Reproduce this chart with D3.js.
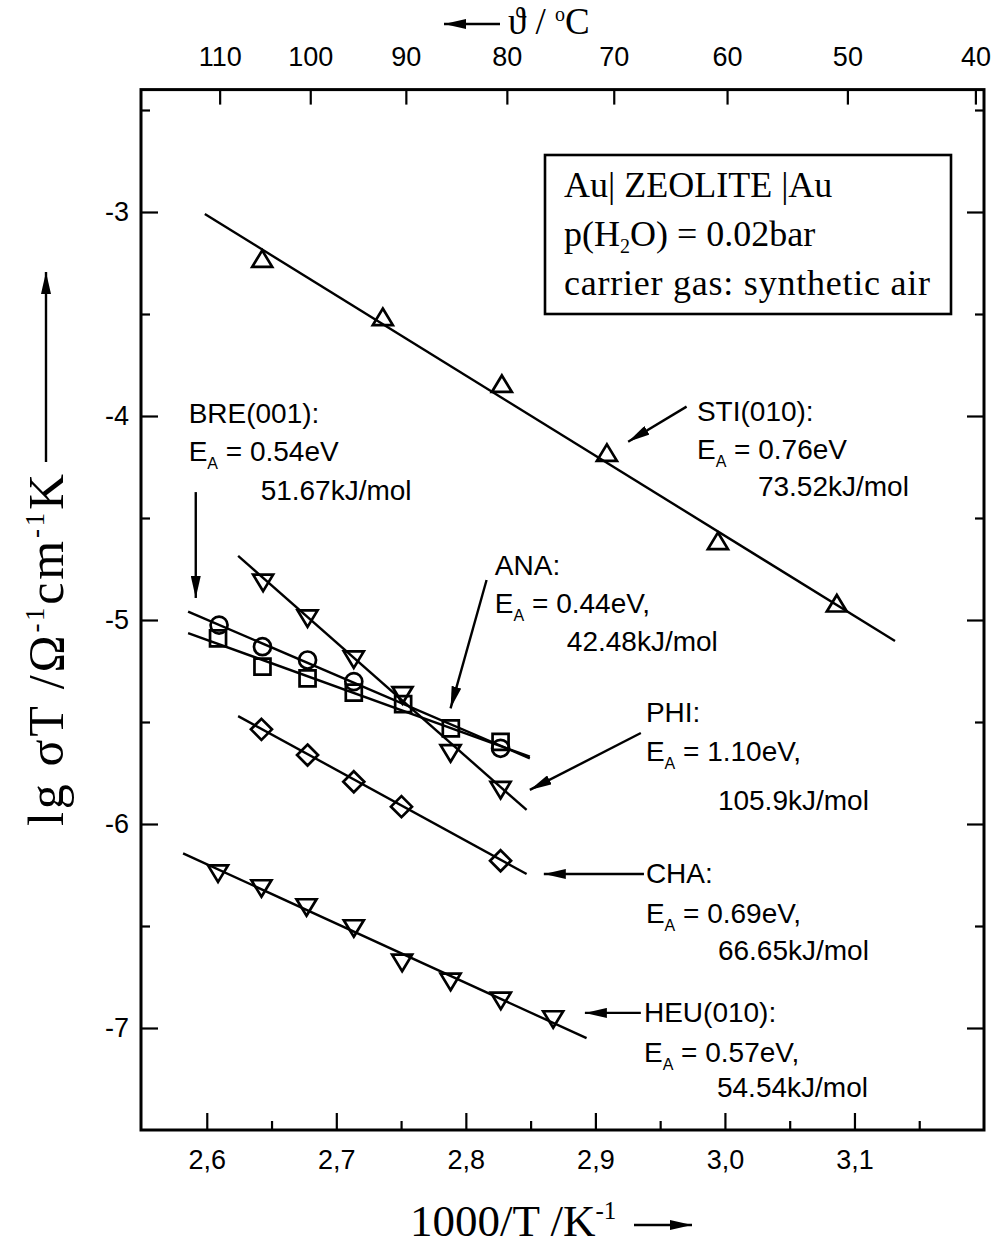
<!DOCTYPE html>
<html><head><meta charset="utf-8">
<script src="https://cdn.jsdelivr.net/npm/d3@7"></script>
<style>body{margin:0;background:#fff} svg{display:block}</style>
</head><body><svg id="c" width="998" height="1247"></svg>
<script>
// ---------- data ----------
const xTickValues = [2.6, 2.7, 2.8, 2.9, 3.0, 3.1];
const xMinorValues = [2.65, 2.75, 2.85, 2.95, 3.05, 3.15];
const yTickValues = [-3, -4, -5, -6, -7];
const yMinorValues = [-2.5, -3.5, -4.5, -5.5, -6.5];
const topTemps = [110, 100, 90, 80, 70, 60, 50, 40];

const stiX = [2.6428, 2.7359, 2.8278, 2.9089, 2.9946, 3.0864];
const stiY = [-3.230, -3.515, -3.843, -4.181, -4.613, -4.919];
const breX = [2.6095, 2.6430, 2.6778, 2.7135, 2.8268];
const breY = [-5.025, -5.131, -5.196, -5.302, -5.629];
const anaX = [2.6087, 2.6430, 2.6778, 2.7135, 2.7516, 2.7884, 2.8268];
const anaY = [-5.090, -5.229, -5.286, -5.356, -5.412, -5.531, -5.597];
const phiX = [2.6435, 2.6778, 2.7135, 2.7511, 2.7882, 2.8268];
const phiY = [-4.817, -4.992, -5.193, -5.368, -5.653, -5.833];
const chaX = [2.6422, 2.6778, 2.7135, 2.7503, 2.8268];
const chaY = [-5.536, -5.662, -5.793, -5.915, -6.180];
const heuX = [2.6087, 2.6422, 2.6770, 2.7135, 2.7508, 2.7882, 2.8270, 2.8674];
const heuY = [-6.242, -6.315, -6.408, -6.511, -6.680, -6.773, -6.866, -6.957];

// linear fits (end points, data units)
const stiFitX = [2.5985, 3.1313], stiFitY = [-3.010, -5.103];
const breFitX = [2.5856, 2.8494], breFitY = [-4.959, -5.678];
const anaFitX = [2.5856, 2.8494], anaFitY = [-5.064, -5.670];
const phiFitX = [2.6242, 2.8469], phiFitY = [-4.686, -5.931];
const chaFitX = [2.6242, 2.8469], chaFitY = [-5.471, -6.245];
const heuFitX = [2.5817, 2.8932], heuFitY = [-6.144, -7.050];

// annotation texts
const labels = [
  {name: "BRE(001):", ea: "0.54eV", kj: "51.67kJ/mol", x: 2.5860, y: -4.035, d2: 38, d3: 77, k3: 72},
  {name: "STI(010):", ea: "0.76eV", kj: "73.52kJ/mol", x: 2.9784, y: -4.025, d2: 38, d3: 75, k3: 61},
  {name: "ANA:", ea: "0.44eV,", kj: "42.48kJ/mol", x: 2.8224, y: -4.780, d2: 38, d3: 76, k3: 72},
  {name: "PHI:", ea: "1.10eV,", kj: "105.9kJ/mol", x: 2.9390, y: -5.500, d2: 39, d3: 88, k3: 72},
  {name: "CHA:", ea: "0.69eV,", kj: "66.65kJ/mol", x: 2.9390, y: -6.289, d2: 40, d3: 77, k3: 72},
  {name: "HEU(010):", ea: "0.57eV,", kj: "54.54kJ/mol", x: 2.9375, y: -6.971, d2: 40, d3: 75, k3: 73}
];
// annotation arrows [x1,y1] tail -> [x2,y2] head (data units)
const arrows = [
  [2.5915, -4.373, 2.5915, -4.892],
  [2.9704, -3.954, 2.9253, -4.126],
  [2.8160, -4.804, 2.7882, -5.433],
  [2.9351, -5.554, 2.8494, -5.833],
  [2.9375, -6.245, 2.8602, -6.245],
  [2.9351, -6.926, 2.8919, -6.926]
];
const boxLines = ["Au| ZEOLITE |Au", "p(H2O) = 0.02bar", "carrier gas: synthetic air"];

// ---------- chart ----------
const svg = d3.select("#c");
const L = 141, R = 984, T = 89.6, B = 1130;
const x = d3.scaleLinear().domain([2.55, 3.2]).range([L + 1, R]);
const y = d3.scaleLinear().domain([-7.5, -2.4]).range([B, T]);
const SANS = "'Liberation Sans', Arial, sans-serif";
const SERIF = "'Liberation Serif', 'Times New Roman', serif";

function styleAxis(g, fs) {
  g.select(".domain").remove();
  g.selectAll(".tick line").attr("stroke", "#000").attr("stroke-width", 2.2);
  g.selectAll(".tick text").attr("fill", "#000").style("font-family", SANS).style("font-size", fs + "px");
}

// bottom axis
svg.append("g").attr("transform", `translate(0,${B})`)
  .call(d3.axisBottom(x).tickValues(xTickValues).tickSizeInner(-17).tickSizeOuter(0).tickPadding(20)
    .tickFormat(d => d3.format(".1f")(d).replace(".", ",")))
  .call(g => styleAxis(g, 27));
svg.append("g").attr("transform", `translate(0,${B})`)
  .call(d3.axisBottom(x).tickValues(xMinorValues).tickSizeInner(-9).tickSizeOuter(0).tickFormat(""))
  .call(g => styleAxis(g, 27));

// top axis (temperature)
const tempPos = topTemps.map(t => 1000 / (t + 273.15));
svg.append("g").attr("transform", `translate(0,${T})`)
  .call(d3.axisTop(x).tickValues(tempPos).tickSizeInner(-15).tickSizeOuter(0).tickPadding(24)
    .tickFormat((d, i) => String(topTemps[i])))
  .call(g => styleAxis(g, 27));

// left axis
svg.append("g").attr("transform", `translate(${L},0)`)
  .call(d3.axisLeft(y).tickValues(yTickValues).tickSizeInner(-17).tickSizeOuter(0).tickPadding(12)
    .tickFormat(d => String(d)))
  .call(g => styleAxis(g, 27));
svg.append("g").attr("transform", `translate(${L},0)`)
  .call(d3.axisLeft(y).tickValues(yMinorValues).tickSizeInner(-9).tickSizeOuter(0).tickFormat(""))
  .call(g => styleAxis(g, 27));
// right axis (ticks only)
svg.append("g").attr("transform", `translate(${R},0)`)
  .call(d3.axisRight(y).tickValues(yTickValues).tickSizeInner(-17).tickSizeOuter(0).tickFormat(""))
  .call(g => styleAxis(g, 27));
svg.append("g").attr("transform", `translate(${R},0)`)
  .call(d3.axisRight(y).tickValues(yMinorValues).tickSizeInner(-9).tickSizeOuter(0).tickFormat(""))
  .call(g => styleAxis(g, 27));

// frame
svg.append("rect").attr("x", L).attr("y", T).attr("width", R - L).attr("height", B - T)
  .attr("fill", "none").attr("stroke", "#000").attr("stroke-width", 3);

// fit lines
const fits = [[stiFitX, stiFitY], [breFitX, breFitY], [anaFitX, anaFitY], [phiFitX, phiFitY], [chaFitX, chaFitY], [heuFitX, heuFitY]];
const line = d3.line().x(d => x(d[0])).y(d => y(d[1]));
fits.forEach(([fx, fy]) => {
  svg.append("path").datum(fx.map((v, i) => [v, fy[i]])).attr("d", line)
    .attr("fill", "none").attr("stroke", "#000").attr("stroke-width", 2.4);
});

// markers
const up = "M0,-8.5 L10,8 L-10,8 Z";
const down = "M0,8.5 L10,-8 L-10,-8 Z";
const diamond = "M0,-10.5 L10.5,0 L0,10.5 L-10.5,0 Z";
const square = "M-8,-8 L8,-8 L8,8 L-8,8 Z";
const circle = d3.symbol(d3.symbolCircle, Math.PI * 8.5 * 8.5)();
const series = [[stiX, stiY, up], [breX, breY, circle], [anaX, anaY, square], [phiX, phiY, down], [chaX, chaY, diamond], [heuX, heuY, down]];
series.forEach(([sx, sy, p]) => {
  svg.append("g").selectAll("path").data(sx.map((v, i) => [v, sy[i]])).join("path")
    .attr("d", p).attr("transform", d => `translate(${x(d[0])},${y(d[1])})`)
    .attr("fill", "none").attr("stroke", "#000").attr("stroke-width", 2.7);
});

// arrowhead marker
svg.append("defs").append("marker").attr("id", "ah").attr("markerUnits", "userSpaceOnUse")
  .attr("viewBox", "0 0 22 10").attr("refX", 22).attr("refY", 5)
  .attr("markerWidth", 22).attr("markerHeight", 10).attr("orient", "auto")
  .append("path").attr("d", "M0,0 L22,5 L0,10 Z").attr("fill", "#000");

arrows.forEach(a => {
  svg.append("line").attr("x1", x(a[0])).attr("y1", y(a[1])).attr("x2", x(a[2])).attr("y2", y(a[3]))
    .attr("stroke", "#000").attr("stroke-width", 2.4).attr("marker-end", "url(#ah)");
});

// annotation labels
labels.forEach(l => {
  const g = svg.append("g").style("font-family", SANS).style("font-size", "28px").attr("fill", "#000");
  const x0 = x(l.x), y0 = y(l.y);
  g.append("text").attr("x", x0).attr("y", y0).text(l.name);
  const t = g.append("text").attr("x", x0).attr("y", y0 + l.d2);
  t.append("tspan").text("E");
  t.append("tspan").attr("dy", 8).style("font-size", "16px").text("A");
  t.append("tspan").attr("dy", -8).text(" = " + l.ea);
  g.append("text").attr("x", x0 + l.k3).attr("y", y0 + l.d3).text(l.kj);
});

// info box
const bx = 545, by = 155, bw = 406, bh = 159;
svg.append("rect").attr("x", bx).attr("y", by).attr("width", bw).attr("height", bh)
  .attr("fill", "#fff").attr("stroke", "#000").attr("stroke-width", 2.6);
const bg = svg.append("g").style("font-family", SERIF).style("font-size", "36px").attr("fill", "#000");
bg.append("text").attr("x", bx + 19).attr("y", by + 42).text(boxLines[0]);
const t2 = bg.append("text").attr("x", bx + 19).attr("y", by + 91);
t2.append("tspan").text("p(H");
t2.append("tspan").attr("dy", 7).style("font-size", "20px").text("2");
t2.append("tspan").attr("dy", -7).text("O) = 0.02bar");
bg.append("text").attr("x", bx + 19).attr("y", by + 140).attr("textLength", 366)
  .attr("lengthAdjust", "spacing").text(boxLines[2]);

// y axis title
const yt = svg.append("text").attr("transform", "translate(63,650) rotate(-90)")
  .attr("text-anchor", "middle").attr("textLength", 352).attr("lengthAdjust", "spacing")
  .style("font-family", SERIF).style("font-size", "50px").attr("fill", "#000");
yt.append("tspan").text("lg σT /Ω");
yt.append("tspan").attr("dy", -19).style("font-size", "27px").text("-1");
yt.append("tspan").attr("dy", 19).text("cm");
yt.append("tspan").attr("dy", -19).style("font-size", "27px").text("-1");
yt.append("tspan").attr("dy", 19).text("K");
svg.append("line").attr("x1", 46).attr("y1", 462).attr("x2", 46).attr("y2", 272)
  .attr("stroke", "#000").attr("stroke-width", 2.4).attr("marker-end", "url(#ah)");

// x axis title
const xt = svg.append("text").attr("x", 410).attr("y", 1236)
  .style("font-family", SERIF).style("font-size", "45px").attr("fill", "#000");
xt.append("tspan").text("1000/T  /K");
xt.append("tspan").attr("dy", -17).style("font-size", "25px").text("-1");
svg.append("line").attr("x1", 634).attr("y1", 1225).attr("x2", 692).attr("y2", 1225)
  .attr("stroke", "#000").attr("stroke-width", 2.4).attr("marker-end", "url(#ah)");

// top title
svg.append("line").attr("x1", 500).attr("y1", 24).attr("x2", 444).attr("y2", 24)
  .attr("stroke", "#000").attr("stroke-width", 2.4).attr("marker-end", "url(#ah)");
const tt = svg.append("text").attr("x", 508).attr("y", 34)
  .style("font-family", SERIF).style("font-size", "37px").attr("fill", "#000");
tt.append("tspan").text("ϑ / ");
tt.append("tspan").attr("dy", -13).style("font-size", "20px").text("o");
tt.append("tspan").attr("dy", 13).text("C");
</script></body></html>
